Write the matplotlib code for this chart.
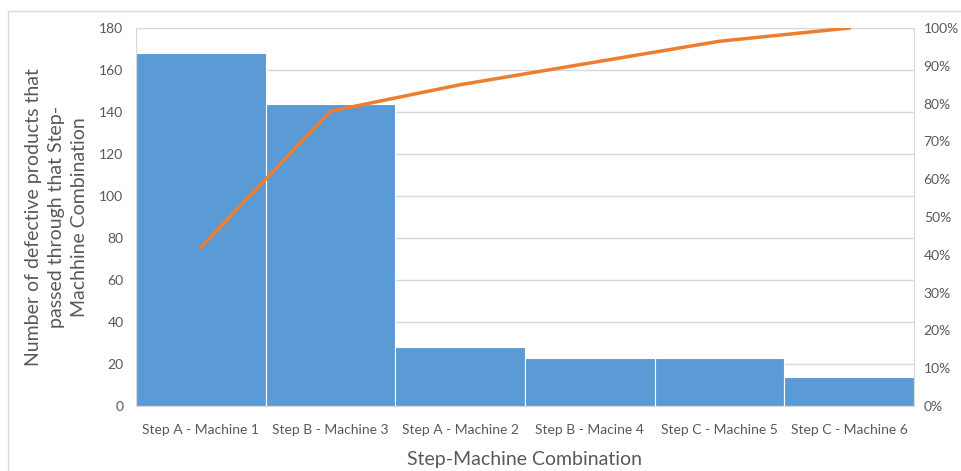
import numpy as np
import matplotlib.pyplot as plt
from matplotlib.patches import Rectangle
from matplotlib.ticker import PercentFormatter

plt.rcParams['font.family'] = ['Lato', 'DejaVu Sans']

# defect counts per step-machine combination
categories = ['Step A - Machine 1', 'Step B - Machine 3', 'Step A - Machine 2',
              'Step B - Macine 4', 'Step C - Machine 5', 'Step C - Machine 6']
defects = [168, 144, 28, 23, 23, 14]

cum_pct = np.cumsum(defects) / np.sum(defects)

text_col = '#595959'
grid_col = '#d9d9d9'

fig = plt.figure(figsize=(9.61, 4.71), dpi=100)
ax = fig.add_axes([0.1415, 0.138, 0.8096, 0.8025])

x = np.arange(len(categories))
ax.bar(x, defects, width=1.0, color='#5b9bd5', edgecolor='white', linewidth=0.8, zorder=2)
ax.set_xlim(-0.5, len(categories) - 0.5)
ax.set_ylim(0, 180)
ax.set_yticks(range(0, 181, 20))
ax.grid(axis='y', color=grid_col, linewidth=1, zorder=0)
ax.set_xticks(x)
ax.set_xticklabels(categories)
ax.tick_params(length=0, colors=text_col, labelsize=10)
ax.tick_params(axis='x', pad=13)
ax.tick_params(axis='y', pad=9)
for s in ax.spines.values():
    s.set_color(grid_col)

ax.set_ylabel('Number of defective products that\npassed through that Step-\nMachhine Combination',
              fontsize=14, color=text_col, labelpad=8, linespacing=1.45)
ax.set_xlabel('Step-Machine Combination', fontsize=14, color=text_col, labelpad=11)

# cumulative percentage on secondary axis
ax2 = ax.twinx()
ax2.plot(x, cum_pct, color='#ed7d31', linewidth=2.5, zorder=3)
ax2.set_ylim(0, 1)
ax2.set_yticks(np.arange(0, 1.01, 0.1))
ax2.yaxis.set_major_formatter(PercentFormatter(1.0, decimals=0))
ax2.tick_params(length=0, colors=text_col, labelsize=10, pad=7)
for s in ax2.spines.values():
    s.set_visible(False)

# chart area border
fig.patches.append(Rectangle((8 / 961, -0.1), 1.2, 1 - 11 / 471 + 0.1,
                             transform=fig.transFigure, fill=False,
                             edgecolor=grid_col, linewidth=1))

fig.savefig('out.png', dpi=100)
